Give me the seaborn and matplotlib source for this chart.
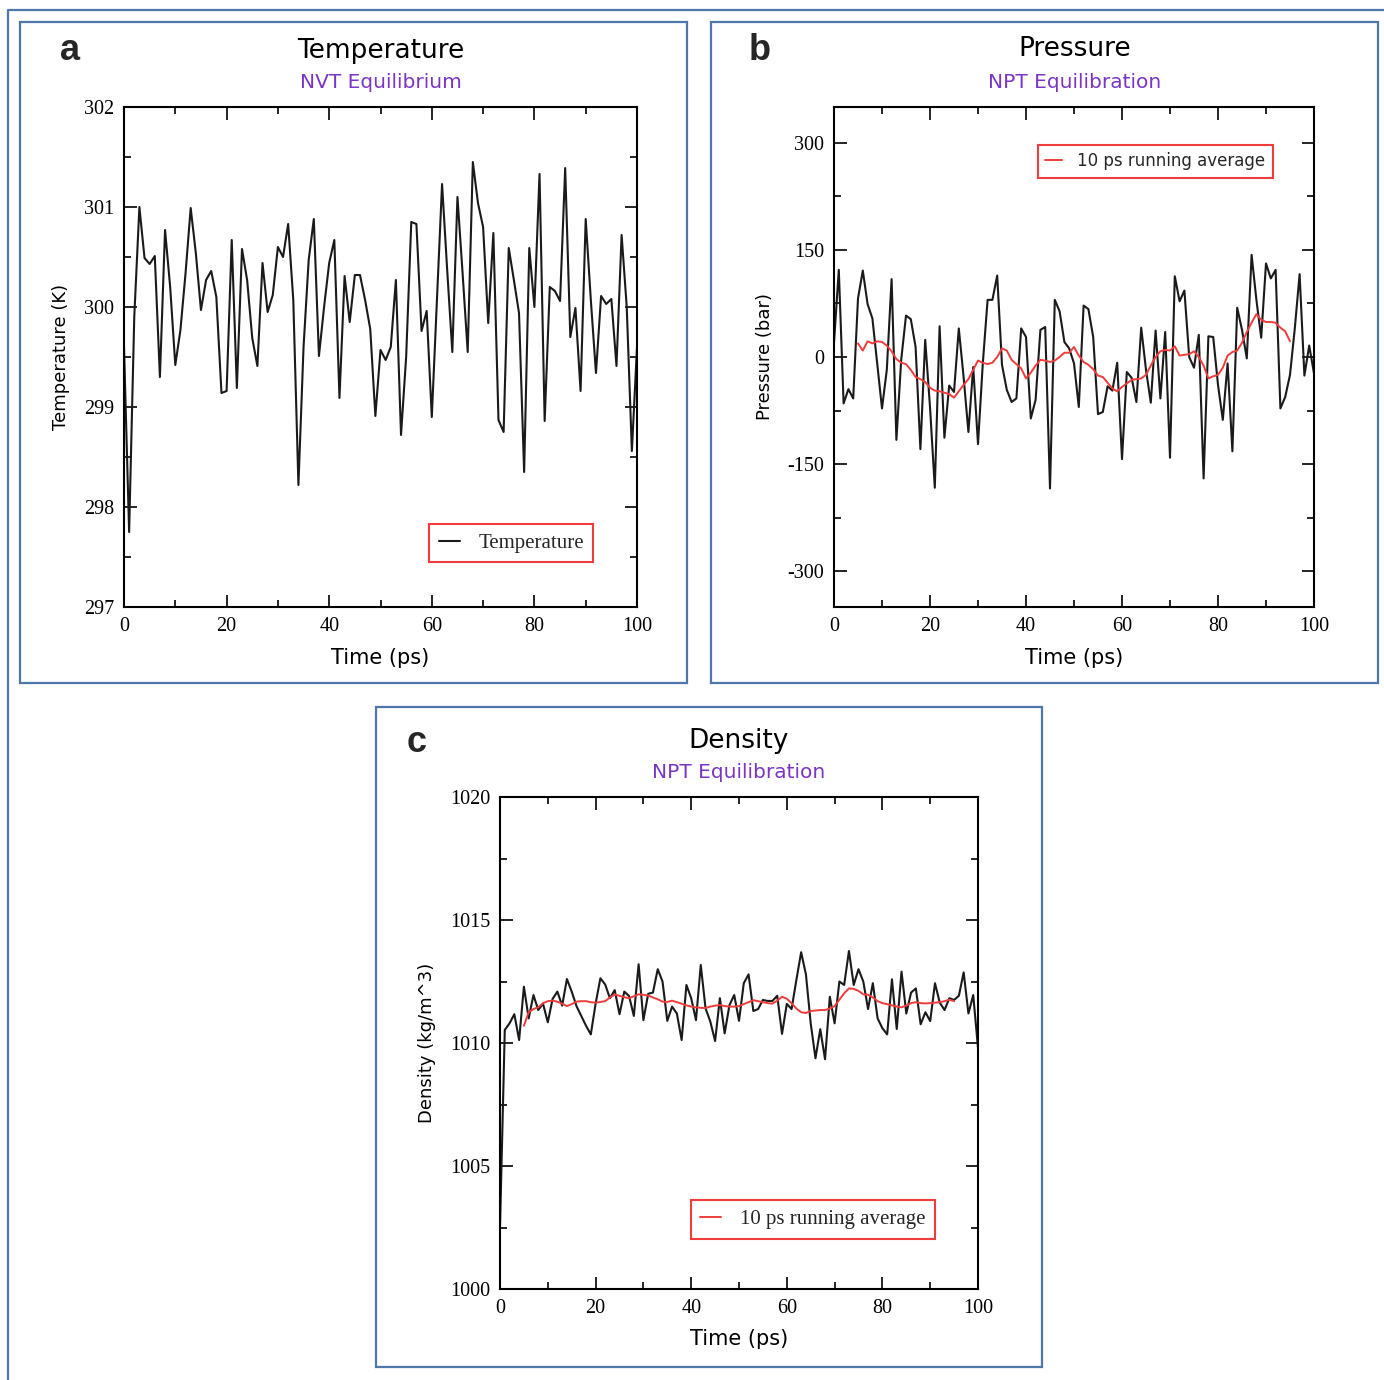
import numpy as np
import pandas as pd
import matplotlib
matplotlib.use("Agg")
import matplotlib.pyplot as plt
import seaborn as sns
from matplotlib.ticker import MultipleLocator
from matplotlib.lines import Line2D
from matplotlib.patches import Rectangle

# ---------------- data ----------------
time_ps = list(range(0, 101))

temperature_K = [
    299.6, 297.75, 299.9, 301.0, 300.49, 300.43, 300.51, 299.30, 300.77, 300.2,
    299.42, 299.77, 300.34, 300.99, 300.54, 299.97, 300.27, 300.36, 300.10, 299.14,
    299.16, 300.67, 299.19, 300.58, 300.27, 299.69, 299.41, 300.44, 299.95, 300.12,
    300.60, 300.50, 300.83, 300.07, 298.22, 299.60, 300.47, 300.88, 299.51, 300.0,
    300.44, 300.67, 299.09, 300.31, 299.85, 300.32, 300.32, 300.07, 299.78, 298.91,
    299.57, 299.47, 299.60, 300.27, 298.72, 299.50, 300.85, 300.83, 299.76, 299.96,
    298.90, 300.07, 301.23, 300.37, 299.55, 301.10, 300.34, 299.55, 301.45, 301.04,
    300.80, 299.84, 300.74, 298.87, 298.75, 300.59, 300.27, 299.94, 298.35, 300.59,
    300.0, 301.33, 298.86, 300.20, 300.16, 300.06, 301.39, 299.70, 299.99, 299.16,
    300.88, 300.07, 299.34, 300.11, 300.03, 300.08, 299.41, 300.72, 300.0, 298.56,
    299.6,
]

pressure_bar = [
    20, 122, -65, -45, -58, 82, 121, 74, 54, -9,
    -72, -18, 109, -116, -4, 58, 53, 14, -129, 24,
    -70, -183, 43, -113, -40, -49, 40, -28, -105, -14,
    -122, -9, 80, 80, 114, -11, -46, -63, -58, 40,
    28, -86, -60, 38, 42, -184, 80, 64, 21, 12,
    -9, -70, 72, 67, 28, -80, -77, -41, -47, -8,
    -143, -21, -29, -63, 41, -18, -64, 37, -58, 35,
    -141, 113, 78, 93, 0, -15, 31, -170, 29, 28,
    -39, -88, -9, -132, 69, 38, -2, 143, 80, 27,
    131, 110, 122, -72, -56, -25, 40, 116, -26, 16,
    -23,
]

avg_time_ps = list(range(5, 96))

pressure_avg_bar = [
    19, 9, 22, 19, 22, 21, 16, 8, -3, -8,
    -10, -18, -28, -31, -35, -43, -47, -48, -50, -52,
    -57, -48, -39, -31, -18, -5, -8, -10, -8, 0,
    12, 9, -4, -10, -16, -30, -22, -12, -4, -5,
    -7, -5, 0, 6, 6, 14, 2, -7, -11, -17,
    -26, -28, -36, -44, -48, -42, -37, -32, -31, -30,
    -25, -12, 0, 8, 10, 9, 15, 2, 3, 4,
    8, 0, -12, -30, -27, -25, -15, 2, 7, 9,
    20, 35, 48, 60, 52, 49, 49, 48, 41, 36,
    22,
]

density_kgm3 = [
    1002.5, 1010.53, 1010.8, 1011.17, 1010.12, 1012.29, 1011.0, 1011.95, 1011.34, 1011.6,
    1010.84, 1011.79, 1012.09, 1011.52, 1012.6, 1012.09, 1011.5, 1011.1, 1010.7, 1010.35,
    1011.6, 1012.63, 1012.38, 1011.82, 1012.15, 1011.17, 1012.09, 1011.91, 1011.1, 1013.2,
    1010.93, 1012.0, 1012.05, 1013.0, 1012.5, 1010.9, 1011.48, 1011.2, 1010.12, 1012.36,
    1011.82, 1010.93, 1013.17, 1011.41, 1010.87, 1010.08, 1011.82, 1010.39, 1011.54, 1011.95,
    1010.9, 1012.43, 1012.79, 1011.3, 1011.38, 1011.75, 1011.71, 1011.71, 1011.92, 1010.37,
    1011.59, 1011.38, 1012.56, 1013.69, 1012.79, 1010.8, 1009.38, 1010.56, 1009.34, 1011.88,
    1010.8, 1012.5, 1012.36, 1013.74, 1012.36, 1013.0, 1012.5, 1011.38, 1012.43, 1011.0,
    1010.6, 1010.35, 1012.59, 1010.57, 1012.9, 1011.2, 1012.05, 1012.22, 1010.76, 1011.25,
    1010.89, 1012.43, 1011.64, 1011.34, 1011.82, 1011.75, 1011.92, 1012.87, 1011.2, 1011.95,
    1009.8,
]

density_avg_kgm3 = [
    1010.7, 1011.25, 1011.38, 1011.45, 1011.62, 1011.7, 1011.72, 1011.68, 1011.6, 1011.5,
    1011.58, 1011.68, 1011.7, 1011.7, 1011.66, 1011.64, 1011.67, 1011.7, 1011.85, 1011.97,
    1011.92, 1011.86, 1011.82, 1011.9, 1011.98, 1011.96, 1011.93, 1011.85, 1011.78, 1011.68,
    1011.67, 1011.72, 1011.66, 1011.6, 1011.53, 1011.48, 1011.45, 1011.43, 1011.42, 1011.48,
    1011.52, 1011.54, 1011.5, 1011.48, 1011.48, 1011.5, 1011.58, 1011.66, 1011.74, 1011.7,
    1011.66, 1011.62, 1011.6, 1011.72, 1011.88, 1011.8, 1011.62, 1011.4, 1011.25, 1011.22,
    1011.3, 1011.32, 1011.34, 1011.34, 1011.4, 1011.5, 1011.76, 1012.02, 1012.22, 1012.2,
    1012.12, 1011.98, 1011.96, 1011.85, 1011.7, 1011.62, 1011.58, 1011.53, 1011.48, 1011.45,
    1011.52, 1011.62, 1011.66, 1011.62, 1011.61, 1011.62, 1011.64, 1011.66, 1011.7, 1011.76,
    1011.7,
]

# ---------------- style ----------------
sns.set_theme(style="ticks")
plt.rcParams["font.family"] = ["DejaVu Sans"]
plt.rcParams["axes.unicode_minus"] = False

W, H = 1384, 1380
fig = plt.figure(figsize=(W / 100, H / 100), dpi=100)
fig.patch.set_facecolor("white")

BLACK = "#1a1a1a"
RED = "#f03c3c"
FRAME = "#4f76a8"
PURPLE = "#7b35c4"
SERIF = "Liberation Serif"


def make_ax(l, t, r, b):
    return fig.add_axes([l / W, 1 - b / H, (r - l) / W, (b - t) / H])


def style_ax(ax, ylim, ymaj, ymin_, ylabel, ylab_x):
    ax.set_xlim(0, 100)
    ax.set_ylim(*ylim)
    ax.xaxis.set_major_locator(MultipleLocator(20))
    ax.xaxis.set_minor_locator(MultipleLocator(10))
    ax.yaxis.set_major_locator(MultipleLocator(ymaj))
    ax.yaxis.set_minor_locator(MultipleLocator(ymin_))
    ax.tick_params(which="both", direction="in", top=True, right=True,
                   color="black", width=1.2)
    ax.tick_params(which="major", length=9)
    ax.tick_params(which="minor", length=5)
    ax.tick_params(axis="both", which="major", labelsize=14.5, pad=7,
                   labelcolor="black", labelfontfamily=SERIF)
    for s in ax.spines.values():
        s.set_linewidth(1.5)
        s.set_color("black")
        s.set_visible(True)
    ax.set_facecolor("white")
    ax.grid(False)
    ax.set_xlabel("Time (ps)", fontsize=15, color="black")
    ax.xaxis.set_label_coords(0.5, -0.082)
    ax.set_ylabel(ylabel, fontsize=13, color="black")
    ax.yaxis.set_label_coords(ylab_x, 0.5)


def legend(ax, anchor, fam, size):
    leg = ax.legend(loc="center", bbox_to_anchor=anchor, frameon=True,
                    fancybox=False, edgecolor=RED, framealpha=1,
                    handlelength=1.0, handletextpad=0.9, borderpad=0.45,
                    prop={"family": fam, "size": size})
    leg.get_frame().set_linewidth(1.5)
    return leg


# ---------------- panel a: Temperature ----------------
ax_a = make_ax(124, 107, 637, 607)
df_t = pd.DataFrame({"t": time_ps, "v": temperature_K})
sns.lineplot(data=df_t, x="t", y="v", ax=ax_a, color=BLACK, linewidth=1.5,
             estimator=None, label="Temperature")
style_ax(ax_a, (297, 302), 1, 0.5, "Temperature (K)", -0.105)
legend(ax_a, (0.755, 0.128), SERIF, 15)

# ---------------- panel b: Pressure ----------------
ax_b = make_ax(834, 107, 1314, 607)
df_p = pd.DataFrame({"t": time_ps, "v": pressure_bar})
df_pa = pd.DataFrame({"t": avg_time_ps, "v": pressure_avg_bar})
sns.lineplot(data=df_p, x="t", y="v", ax=ax_b, color=BLACK, linewidth=1.5,
             estimator=None)
sns.lineplot(data=df_pa, x="t", y="v", ax=ax_b, color=RED, linewidth=1.4,
             estimator=None, label="10 ps running average")
style_ax(ax_b, (-350, 350), 150, 75, "Pressure (bar)", -0.125)
legend(ax_b, (0.669, 0.892), "DejaVu Sans", 12)

# ---------------- panel c: Density ----------------
ax_c = make_ax(500, 797, 978, 1289)
df_d = pd.DataFrame({"t": time_ps, "v": density_kgm3})
df_da = pd.DataFrame({"t": avg_time_ps, "v": density_avg_kgm3})
sns.lineplot(data=df_d, x="t", y="v", ax=ax_c, color=BLACK, linewidth=1.5,
             estimator=None)
sns.lineplot(data=df_da, x="t", y="v", ax=ax_c, color=RED, linewidth=1.4,
             estimator=None, label="10 ps running average")
style_ax(ax_c, (1000, 1020), 5, 2.5, "Density (kg/m^3)", -0.134)
legend(ax_c, (0.654, 0.141), SERIF, 15)

# ---------------- titles and panel letters ----------------
def ftext(px, py, s, **kw):
    fig.text(px / W, 1 - py / H, s, ha="center", va="center", **kw)

ftext(381, 51, "Temperature", fontsize=19, color="black")
ftext(381, 82, "NVT Equilibrium", fontsize=14.5, color=PURPLE)
ftext(1075, 49, "Pressure", fontsize=19, color="black")
ftext(1075, 82, "NPT Equilibration", fontsize=14.5, color=PURPLE)
ftext(739, 741, "Density", fontsize=19, color="black")
ftext(739, 773, "NPT Equilibration", fontsize=14.5, color=PURPLE)

ftext(70, 51, "a", fontsize=26, fontweight="bold", family="Liberation Sans")
ftext(760, 50, "b", fontsize=26, fontweight="bold", family="Liberation Sans")
ftext(417, 743, "c", fontsize=26, fontweight="bold", family="Liberation Sans")

# ---------------- panel frames ----------------
for (l, t, r, b) in [(20, 22, 687, 683), (711, 22, 1378, 683), (376, 707, 1042, 1367)]:
    fig.patches.append(Rectangle((l / W, 1 - b / H), (r - l) / W, (b - t) / H,
                                 transform=fig.transFigure, fill=False,
                                 edgecolor=FRAME, linewidth=1.6, zorder=0))
fig.lines.append(Line2D([8 / W, 8 / W, 1.0], [0.0, 1 - 10 / H, 1 - 10 / H],
                        transform=fig.transFigure, color=FRAME, linewidth=1.6))

fig.savefig("out.png", dpi=100, facecolor="white")
